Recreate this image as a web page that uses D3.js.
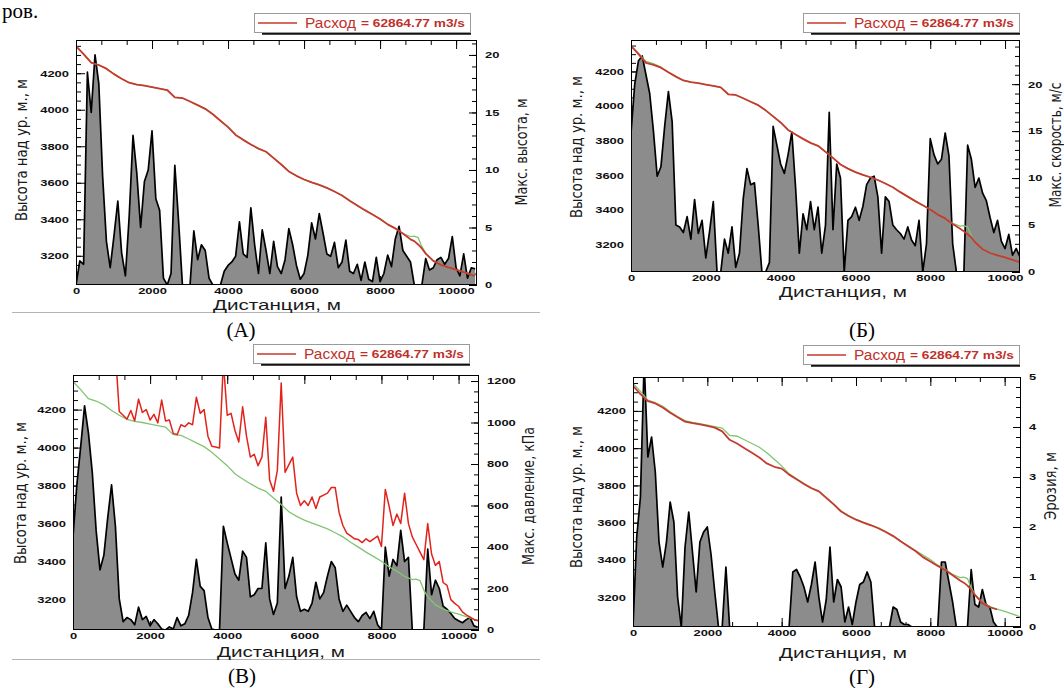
<!DOCTYPE html>
<html>
<head>
<meta charset="utf-8">
<script src="https://cdn.jsdelivr.net/npm/d3@7"></script>
<style>
  body { margin: 0; background: #fff; }
  svg { display: block; }
</style>
</head>
<body>
<svg id="fig" width="1064" height="688"></svg>
<script>
// sampling grid of the right-axis series, m
const step = 100;
const dist = d3.range(0, 10501, step);

// (А) max flow height, m
const hMaxA = [
  0, 2.1, 1.8, 18.5, 15, 20, 17.5, 9.5, 3.8, 1.5,
  4.3, 7.3, 2.8, 0.8, 6, 13, 9.7, 5, 9, 10,
  13.4, 7.5, 6.5, 0.6, 0, 1, 10.4, 5.5, 0, 0,
  0, 4.7, 2.2, 3.5, 3, 0.6, 0, 0, 0, 1.2,
  1.7, 2, 2.5, 5.5, 2.7, 2.4, 6.7, 3.5, 1, 4.8,
  3, 1, 3.8, 1.6, 1, 2.2, 4.9, 3.5, 1.7, 0.5,
  1, 2.6, 5.4, 4, 6.2, 4.5, 2.7, 2.5, 3.7, 1.5,
  2, 3.9, 1.2, 1, 1.8, 0.4, 2, 0.5, 0.3, 2.4,
  0.3, 1, 2.6, 1.6, 4, 5.1, 3, 2.5, 2, 0,
  0, 0, 2.3, 1.3, 1.5, 2.2, 2.4, 1.8, 2.3, 4.2,
  1.5, 0.8, 2.7, 0.6, 1.5, 1.4
];
// (Б) max velocity, m/s
const vMaxB = [
  14.8, 20, 22.5, 23, 21, 19, 15, 10.2, 11.2, 15.5,
  19.2, 16, 5, 4.8, 4.2, 5.9, 3.5, 7.7, 4.1, 5.5,
  1.5, 4.3, 7.5, 0, 0, 3.5, 2, 4.8, 0.5, 2,
  7.8, 11, 9.3, 9.5, 5, 0, 0, 1, 15.5, 13.5,
  11.5, 10.5, 12.5, 14.9, 9, 2, 6.2, 4.5, 7.5, 4.5,
  6.9, 2, 5, 17, 4.5, 11.5, 10, 0, 5.5, 5.9,
  6.9, 5.5, 7, 9.3, 10, 10.2, 8, 2, 8, 7.5,
  5, 4.5, 4.1, 3.5, 4.8, 3.4, 2.8, 5.5, 0, 3,
  14.2, 12.5, 11.5, 12, 14.8, 12.4, 3, 0, 0, 0,
  13.5, 12, 9, 10, 8.4, 7.6, 5.8, 4.2, 5.5, 3.3,
  2.5, 4, 1.8, 2.5, 1.6, 1.6
];
// (В) max pressure, kPa
const pMaxC = [
  450, 700, 885, 1080, 950, 760, 480, 290, 360, 540,
  700, 500, 150, 40, 60, 50, 25, 110, 50, 65,
  20, 50, 30, 5, 0, 15, 5, 60, 20, 30,
  70, 180, 340, 210, 190, 60, 5, 0, 0, 500,
  420, 345, 270, 240, 380, 350, 160, 170, 200, 200,
  420, 150, 75, 130, 640, 200, 260, 350, 160, 90,
  100, 90, 130, 230, 150, 180, 260, 330, 300, 150,
  90, 120, 90, 60, 40, 70, 85, 55, 90, 25,
  0, 400, 260, 340, 310, 480, 330, 350, 0, 0,
  0, 0, 390, 170, 240, 200, 115, 100, 80, 55,
  45, 35, 50, 60, 20, 13
];
// (Г) erosion depth, m
const erosD = [
  0, 1.8, 2.6, 5.3, 3.4, 3.8, 3.1, 1.7, 1.2, 1.7,
  2.5, 2.1, 0.6, 0, 1.6, 2.3, 1.5, 0.7, 1.7, 1.9,
  2, 1.45, 0.7, 0, 0, 1.2, 0, 0, 0, 0,
  0, 0, 0, 0, 0, 0, 0, 0, 0, 0,
  0, 0, 0, 1.1, 1.15, 1, 0.8, 0.5, 0.85, 1.3,
  0.6, 0.1, 0.55, 1.6, 0.5, 0.95, 0.8, 0.1, 0.4, 0.05,
  0.5, 0.85, 0.9, 1.1, 0.9, 0, 0, 0, 0, 0,
  0.4, 0.35, 0.1, 0.05, 0.05, 0, 0, 0, 0, 0,
  0, 0, 0, 1.3, 1.3, 0.9, 0.5, 0, 0, 0,
  0, 1.15, 0.45, 0.4, 0.75, 0.45, 0.4, 0.1, 0, 0,
  0, 0, 0, 0, 0, 0
];
// (В) red profile, m a.s.l. (off the top of the frame where it is cut)
const surfC = [
  4500, 4500, 4500, 4500, 4500, 4500, 4500, 4500, 4500, 4500,
  4500, 4500, 4190, 4170, 4150, 4195, 4140, 4255, 4185, 4200,
  4145, 4175, 4130, 4250, 4140, 4145, 4075, 4068, 4120, 4110,
  4130, 4120, 4265, 4180, 4200, 4060, 4007, 4003, 3998, 4450,
  4170, 4180, 4090, 4030, 4215, 4060, 3950, 3965, 3905, 3950,
  4160, 3830, 3770, 3880, 4340, 3870, 3910, 3950, 3760, 3695,
  3720, 3695, 3740, 3680, 3740, 3750, 3760, 3790, 3790, 3660,
  3590, 3550, 3535, 3520, 3516, 3500, 3520, 3505, 3520, 3534,
  3480, 3780, 3690, 3590, 3650, 3600, 3760, 3600, 3530, 3490,
  3450, 3410, 3600, 3440, 3380, 3400, 3290, 3275, 3200, 3180,
  3165, 3135, 3120, 3108, 3096, 3088
];

// bed profile (green) and red profiles of А, Б, Г
const profDist = [0, 200, 400, 600, 800, 1000, 1200, 1400, 1600, 1800, 2000, 2200, 2400, 2600,
  2800, 3000, 3200, 3400, 3600, 3800, 4000, 4200, 4400, 4600, 4800, 5000, 5200, 5400,
  5600, 5800, 6000, 6200, 6400, 6600, 6800, 7000, 7200, 7400, 7600, 7800, 8000, 8200,
  8400, 8600, 8800, 8900, 9000, 9100, 9200, 9400, 9600, 9800, 10000, 10200, 10400, 10500];
const terrain = [4348, 4305, 4258, 4245, 4225, 4195, 4170, 4148, 4138, 4132, 4124, 4116, 4108, 4068,
  4064, 4045, 4025, 4005, 3975, 3940, 3905, 3862, 3835, 3810, 3787, 3770, 3735, 3700,
  3662, 3638, 3618, 3602, 3588, 3572, 3552, 3530, 3502, 3476, 3450, 3426, 3402, 3372,
  3350, 3322, 3305, 3308, 3300, 3250, 3215, 3172, 3150, 3136, 3124, 3110, 3096, 3090];
const surfA = [4348, 4305, 4258, 4245, 4225, 4195, 4170, 4148, 4138, 4132, 4124, 4116, 4108, 4068,
  4064, 4045, 4025, 4005, 3975, 3940, 3905, 3862, 3835, 3810, 3787, 3770, 3735, 3700,
  3662, 3638, 3618, 3602, 3588, 3572, 3552, 3530, 3502, 3476, 3450, 3426, 3402, 3372,
  3350, 3322, 3290, 3280, 3262, 3240, 3212, 3172, 3150, 3136, 3124, 3110, 3096, 3090];
const surfB = [4348, 4300, 4250, 4238, 4222, 4195, 4170, 4148, 4138, 4132, 4124, 4116, 4108, 4068,
  4064, 4045, 4025, 4005, 3975, 3940, 3905, 3862, 3835, 3810, 3787, 3770, 3735, 3700,
  3662, 3638, 3618, 3602, 3588, 3572, 3552, 3530, 3502, 3476, 3450, 3426, 3402, 3372,
  3350, 3318, 3290, 3275, 3258, 3240, 3212, 3172, 3150, 3136, 3124, 3110, 3096, 3090];
const surfD = [4335, 4290, 4252, 4240, 4218, 4190, 4166, 4142, 4134, 4128, 4120, 4110, 4090, 4045,
  4025, 4000, 3975, 3950, 3918, 3900, 3890, 3858, 3833, 3808, 3785, 3768, 3733, 3698,
  3660, 3636, 3616, 3600, 3586, 3570, 3550, 3528, 3500, 3474, 3448, 3415, 3392, 3368,
  3346, 3318, 3290, 3278, 3262, 3240, 3212, 3168, 3146, 3134, null, null, null, null];

const leftTicks = [3200, 3400, 3600, 3800, 4000, 4200];
const xTicks = [0, 2000, 4000, 6000, 8000, 10000];
const leftDomain = [3040, 4382];
const legendText = ["Расход", "= 62864.77 m3/s"];

const panels = [
  { box: [76, 40, 477, 285], xMax: 10550, rDom: [0, 21.3], rTicks: [0, 5, 10, 15, 20], rMinor: 1,
    area: hMaxA, red: surfA, redX: profDist, redCol: "#c63a2e", redW: 1.8,
    rLabel: "Макс. высота, м", rPos: [521, 152], rLen: 107,
    lPos: [21, 150], xPos: [277, 310], leg: [254, 13], cap: ["(А)", 241, 337] },
  { box: [631, 40, 1020, 272], xMax: 10400, rDom: [0, 24.7], rTicks: [0, 5, 10, 15, 20], rMinor: 1,
    area: vMaxB, red: surfB, redX: profDist, redCol: "#c63a2e", redW: 1.8,
    rLabel: "Макс. скорость, м/с", rPos: [1055, 145], rLen: 125,
    lPos: [576, 147], xPos: [843, 297], leg: [803, 13], cap: ["(Б)", 862, 337] },
  { box: [73, 375, 479, 630], xMax: 10530, rDom: [0, 1229], rTicks: [0, 200, 400, 600, 800, 1000, 1200], rMinor: 50,
    area: pMaxC, red: surfC, redX: dist, redCol: "#e2231c", redW: 1.5,
    rLabel: "Макс. давление, кПа", rPos: [528, 496], rLen: 138,
    lPos: [20, 493], xPos: [281, 657], leg: [253, 344], cap: ["(В)", 242, 683] },
  { box: [633, 377, 1021, 627], xMax: 10440, rDom: [0, 5], rTicks: [0, 1, 2, 3, 4, 5], rMinor: 0.2,
    area: erosD, red: surfD, redX: profDist, redCol: "#c63a2e", redW: 1.8,
    rLabel: "Эрозия, м", rPos: [1050, 486], rLen: 68,
    lPos: [576, 497], xPos: [843, 658], leg: [803, 345], cap: ["(Г)", 862, 684] }
];

const svg = d3.select("#fig");
const sans = "Liberation Sans, Arial, sans-serif";
const narrow = "Liberation Sans Narrow, DejaVu Sans Condensed, Liberation Sans, sans-serif";
const serif = "Liberation Serif, Times New Roman, serif";

function label(sel, x, y, s, o) {
  const t = sel.append("text").attr("x", x).attr("y", y).text(s)
    .attr("font-family", o.family).attr("font-size", o.size)
    .attr("fill", o.fill || "#111").attr("text-anchor", o.anchor || "start");
  if (o.weight) t.attr("font-weight", o.weight);
  if (o.len) t.attr("textLength", o.len).attr("lengthAdjust", "spacingAndGlyphs");
  if (o.baseline) t.attr("dominant-baseline", o.baseline);
  if (o.rotate) t.attr("transform", `rotate(-90 ${x} ${y})`);
  return t;
}

function styleAxis(ax) {
  ax.select(".domain").remove();
  ax.selectAll("line").attr("stroke", "#000").attr("stroke-width", 1);
  ax.selectAll("text")
    .attr("font-family", sans).attr("font-size", 9).attr("font-weight", "bold").attr("fill", "#111")
    .each(function () {
      const s = d3.select(this);
      const n = s.text().length;
      if (n) s.attr("textLength", n * 7.2).attr("lengthAdjust", "spacingAndGlyphs");
    });
}

// page bits around the figure
label(svg, 2, 18, "ров.", { family: serif, size: 21, fill: "#000" });
svg.append("line").attr("x1", 12).attr("x2", 540).attr("y1", 312.5).attr("y2", 312.5)
  .attr("stroke", "#b4b4b4").attr("stroke-width", 1);
svg.append("line").attr("x1", 12).attr("x2", 540).attr("y1", 659.5).attr("y2", 659.5)
  .attr("stroke", "#b4b4b4").attr("stroke-width", 1);

panels.forEach((p, i) => {
  const [x0, y0, x1, y1] = p.box;
  const x = d3.scaleLinear().domain([0, p.xMax]).range([x0, x1]);
  const yL = d3.scaleLinear().domain(leftDomain).range([y1, y0]);
  const yR = d3.scaleLinear().domain(p.rDom).range([y1, y0]);
  const g = svg.append("g");

  // ticks (IDL style, pointing inwards)
  const xMinor = d3.range(0, p.xMax, 2000 / 3);
  const lMinor = d3.range(3050, leftDomain[1], 50);
  const rMinor = d3.range(0, Math.round(p.rDom[1] / p.rMinor) + 1).map(k => +(k * p.rMinor).toFixed(3))
    .filter(v => v <= p.rDom[1]);

  styleAxis(g.append("g").attr("transform", `translate(0,${y1})`)
    .call(d3.axisBottom(x).tickValues(xMinor).tickSize(-5).tickFormat("")));
  styleAxis(g.append("g").attr("transform", `translate(0,${y1})`)
    .call(d3.axisBottom(x).tickValues(xTicks).tickSize(-9).tickPadding(3).tickFormat(d3.format("d"))));
  styleAxis(g.append("g").attr("transform", `translate(0,${y0})`)
    .call(d3.axisTop(x).tickValues(xMinor).tickSize(-5).tickFormat("")));
  styleAxis(g.append("g").attr("transform", `translate(0,${y0})`)
    .call(d3.axisTop(x).tickValues(xTicks).tickSize(-9).tickFormat("")));
  styleAxis(g.append("g").attr("transform", `translate(${x0},0)`)
    .call(d3.axisLeft(yL).tickValues(lMinor).tickSize(-5).tickFormat("")));
  styleAxis(g.append("g").attr("transform", `translate(${x0},0)`)
    .call(d3.axisLeft(yL).tickValues(leftTicks).tickSize(-9).tickPadding(7).tickFormat(d3.format("d"))));
  styleAxis(g.append("g").attr("transform", `translate(${x1},0)`)
    .call(d3.axisRight(yR).tickValues(rMinor).tickSize(-5).tickFormat("")));
  styleAxis(g.append("g").attr("transform", `translate(${x1},0)`)
    .call(d3.axisRight(yR).tickValues(p.rTicks).tickSize(-8).tickPadding(8).tickFormat(d3.format("d"))));

  // data
  const clipId = "clip" + i;
  svg.append("clipPath").attr("id", clipId).append("rect")
    .attr("x", x0).attr("y", y0).attr("width", x1 - x0).attr("height", y1 - y0);
  const plot = g.append("g").attr("clip-path", `url(#${clipId})`);

  const pts = dist.map((d, j) => [d, p.area[j]]);
  plot.append("path").datum(pts)
    .attr("d", d3.area().x(d => x(d[0])).y0(y1).y1(d => yR(d[1])))
    .attr("fill", "#8c8c8c");
  plot.append("path").datum(pts)
    .attr("d", d3.line().x(d => x(d[0])).y(d => yR(d[1])))
    .attr("fill", "none").attr("stroke", "#000").attr("stroke-width", 1.7).attr("stroke-linejoin", "round");

  plot.append("path").datum(profDist.map((d, j) => [d, terrain[j]]))
    .attr("d", d3.line().x(d => x(d[0])).y(d => yL(d[1])))
    .attr("fill", "none").attr("stroke", "#82c472").attr("stroke-width", 1.3);

  plot.append("path").datum(p.redX.map((d, j) => [d, p.red[j]]))
    .attr("d", d3.line().defined(d => d[1] != null).x(d => x(d[0])).y(d => yL(d[1])))
    .attr("fill", "none").attr("stroke", p.redCol).attr("stroke-width", p.redW).attr("stroke-linejoin", "round");

  g.append("rect").attr("x", x0 + 0.5).attr("y", y0 + 0.5).attr("width", x1 - x0 - 1).attr("height", y1 - y0 - 1)
    .attr("fill", "none").attr("stroke", "#000").attr("stroke-width", 1);

  // axis titles
  label(g, p.lPos[0], p.lPos[1], "Высота над ур. м., м",
    { family: narrow, size: 16, fill: "#1a1a1a", anchor: "middle", baseline: "central", len: 142, rotate: true });
  label(g, p.rPos[0], p.rPos[1], p.rLabel,
    { family: narrow, size: 16, fill: "#1a1a1a", anchor: "middle", baseline: "central", len: p.rLen, rotate: true });
  label(g, p.xPos[0], p.xPos[1], "Дистанция, м",
    { family: sans, size: 15, fill: "#1a1a1a", anchor: "middle", len: 128 });

  // legend box
  const [lx, ly] = p.leg;
  g.append("line").attr("x1", lx + 8).attr("x2", lx + 217).attr("y1", ly + 20.5).attr("y2", ly + 20.5)
    .attr("stroke", "#111").attr("stroke-width", 2.6);
  g.append("rect").attr("x", lx + 0.5).attr("y", ly + 0.5).attr("width", 216).attr("height", 19)
    .attr("fill", "#fff").attr("stroke", "#9a9a9a").attr("stroke-width", 1);
  g.append("line").attr("x1", lx + 4).attr("x2", lx + 43).attr("y1", ly + 10).attr("y2", ly + 10)
    .attr("stroke", "#c63a2e").attr("stroke-width", 1.5);
  label(g, lx + 51, ly + 14.5, legendText[0], { family: sans, size: 14, fill: "#c0302a", len: 51 });
  label(g, lx + 107, ly + 14, legendText[1], { family: sans, size: 10, weight: "bold", fill: "#c0302a", len: 104 });

  // caption
  label(svg, p.cap[1], p.cap[2], p.cap[0], { family: serif, size: 21, fill: "#000", anchor: "middle" });
});
</script>
</body>
</html>
